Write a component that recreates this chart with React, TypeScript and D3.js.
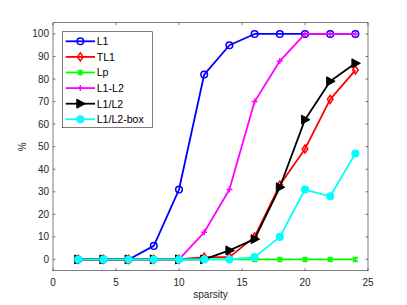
import React from 'react';
import * as d3 from 'd3';

// sparsity levels and success rates (%)
const sparsity = [2, 4, 6, 8, 10, 12, 14, 16, 18, 20, 22, 24];
const l1 = [0, 0, 0, 6, 31, 82, 95, 100, 100, 100, 100, 100];
const tl1 = [0, 0, 0, 0, 0, 1, 1, 10, 33, 49, 71, 84];
const lp = [0, 0, 0, 0, 0, 0, 0, 0, 0, 0, 0, 0];
const l1l2 = [0, 0, 0, 0, 0, 12, 31, 70, 88, 100, 100, 100];
const l1ratio = [0, 0, 0, 0, 0, 0, 4, 9, 32, 62, 79, 87];
const l1box = [0, 0, 0, 0, 0, 0, 0, 1, 10, 31, 28, 47];

const xTicks = [0, 5, 10, 15, 20, 25];
const yTicks = [0, 10, 20, 30, 40, 50, 60, 70, 80, 90, 100];

const series = [
  { name: 'L1', values: l1, color: '#0000ff', marker: 'circle' },
  { name: 'TL1', values: tl1, color: '#ff0000', marker: 'diamond' },
  { name: 'Lp', values: lp, color: '#00ff00', marker: 'x' },
  { name: 'L1-L2', values: l1l2, color: '#ff00ff', marker: 'plus' },
  { name: 'L1/L2', values: l1ratio, color: '#000000', marker: 'triangle' },
  { name: 'L1/L2-box', values: l1box, color: '#00ffff', marker: 'dot' },
];

const W = 407;
const H = 305;
const left = 53, right = 368, top = 22.7, bottom = 270.7;
const font = '"Liberation Sans", Arial, sans-serif';
const axisColor = '#262626';

const x = d3.scaleLinear().domain([0, 25]).range([left, right]);
const y = d3.scaleLinear().domain([-5, 105]).range([bottom, top]);

const Marker = ({ type, cx, cy, color }: { type: string; cx: number; cy: number; color: string }) => {
  const sw = 1.5;
  if (type === 'circle')
    return <circle cx={cx} cy={cy} r={3.3} fill="none" stroke={color} strokeWidth={sw} />;
  if (type === 'dot')
    return <circle cx={cx} cy={cy} r={3.3} fill={color} stroke={color} strokeWidth={sw} />;
  if (type === 'diamond')
    return (
      <path
        d={`M${cx},${cy - 4}L${cx + 2.8},${cy}L${cx},${cy + 4}L${cx - 2.8},${cy}Z`}
        fill="none" stroke={color} strokeWidth={sw}
      />
    );
  if (type === 'x')
    return (
      <path
        d={`M${cx - 2.5},${cy - 2.5}L${cx + 2.5},${cy + 2.5}M${cx - 2.5},${cy + 2.5}L${cx + 2.5},${cy - 2.5}M${cx},${cy - 3}L${cx},${cy + 3}`}
        stroke={color} strokeWidth={sw}
      />
    );
  if (type === 'plus')
    return (
      <path d={`M${cx - 3},${cy}L${cx + 3},${cy}M${cx},${cy - 3}L${cx},${cy + 3}`} stroke={color} strokeWidth={sw} />
    );
  // right-pointing triangle
  return (
    <path
      d={`M${cx + 5},${cy}L${cx - 3.5},${cy - 4.5}L${cx - 3.5},${cy + 4.5}Z`}
      fill={color} stroke={color} strokeWidth={1}
    />
  );
};

const App = () => {
  const line = d3
    .line<number>()
    .x((_, i) => x(sparsity[i]))
    .y((d) => y(d));

  const legX = 62.3, legY = 31.7, legW = 90, legH = 96, rowH = 15.6;

  return (
    <svg width={W} height={H} style={{ position: 'absolute', left: 0, top: 0, background: '#fff' }}>
      <rect x={0} y={0} width={W} height={H} fill="#fff" />
      <rect x={left} y={top} width={right - left} height={bottom - top} fill="#fff" />

      {/* ticks */}
      {xTicks.map((t) => (
        <g key={'x' + t}>
          <line x1={x(t)} x2={x(t)} y1={bottom} y2={bottom - 2.5} stroke={axisColor} strokeWidth={0.6} />
          <line x1={x(t)} x2={x(t)} y1={top} y2={top + 2.5} stroke={axisColor} strokeWidth={0.6} />
          <text x={x(t)} y={bottom + 15.5} textAnchor="middle" fontSize={10} fontFamily={font} fill={axisColor}>
            {t}
          </text>
        </g>
      ))}
      {yTicks.map((t) => (
        <g key={'y' + t}>
          <line x1={left} x2={left + 2.5} y1={y(t)} y2={y(t)} stroke={axisColor} strokeWidth={0.6} />
          <line x1={right} x2={right - 2.5} y1={y(t)} y2={y(t)} stroke={axisColor} strokeWidth={0.6} />
          <text x={left - 4} y={y(t) + 3.5} textAnchor="end" fontSize={10} fontFamily={font} fill={axisColor}>
            {t}
          </text>
        </g>
      ))}

      {/* series */}
      {series.map((s) => (
        <g key={s.name}>
          <path d={line(s.values) || ''} fill="none" stroke={s.color} strokeWidth={1.8} strokeLinejoin="round" />
          {s.values.map((v, i) => (
            <Marker key={i} type={s.marker} cx={x(sparsity[i])} cy={y(v)} color={s.color} />
          ))}
        </g>
      ))}

      <rect x={left} y={top} width={right - left} height={bottom - top} fill="none" stroke={axisColor} strokeWidth={0.6} />

      {/* legend */}
      <rect x={legX} y={legY} width={legW} height={legH} fill="#fff" stroke={axisColor} strokeWidth={0.6} />
      {series.map((s, i) => {
        const cy = legY + 9.6 + i * rowH;
        return (
          <g key={'leg' + s.name}>
            <line x1={65.7} x2={95} y1={cy} y2={cy} stroke={s.color} strokeWidth={1.8} />
            <Marker type={s.marker} cx={80.3} cy={cy} color={s.color} />
            <text x={96.7} y={cy + 3.8} fontSize={10.6} fontFamily={font} fill="#000">
              {s.name}
            </text>
          </g>
        );
      })}

      {/* axis labels */}
      <text x={(left + right) / 2} y={298} textAnchor="middle" fontSize={10} fontFamily={font} fill={axisColor}>
        sparsity
      </text>
      <text
        transform={`translate(26,${(top + bottom) / 2}) rotate(-90)`}
        textAnchor="middle" fontSize={10} fontFamily={font} fill={axisColor}
      >
        %
      </text>
    </svg>
  );
};

export default App;
